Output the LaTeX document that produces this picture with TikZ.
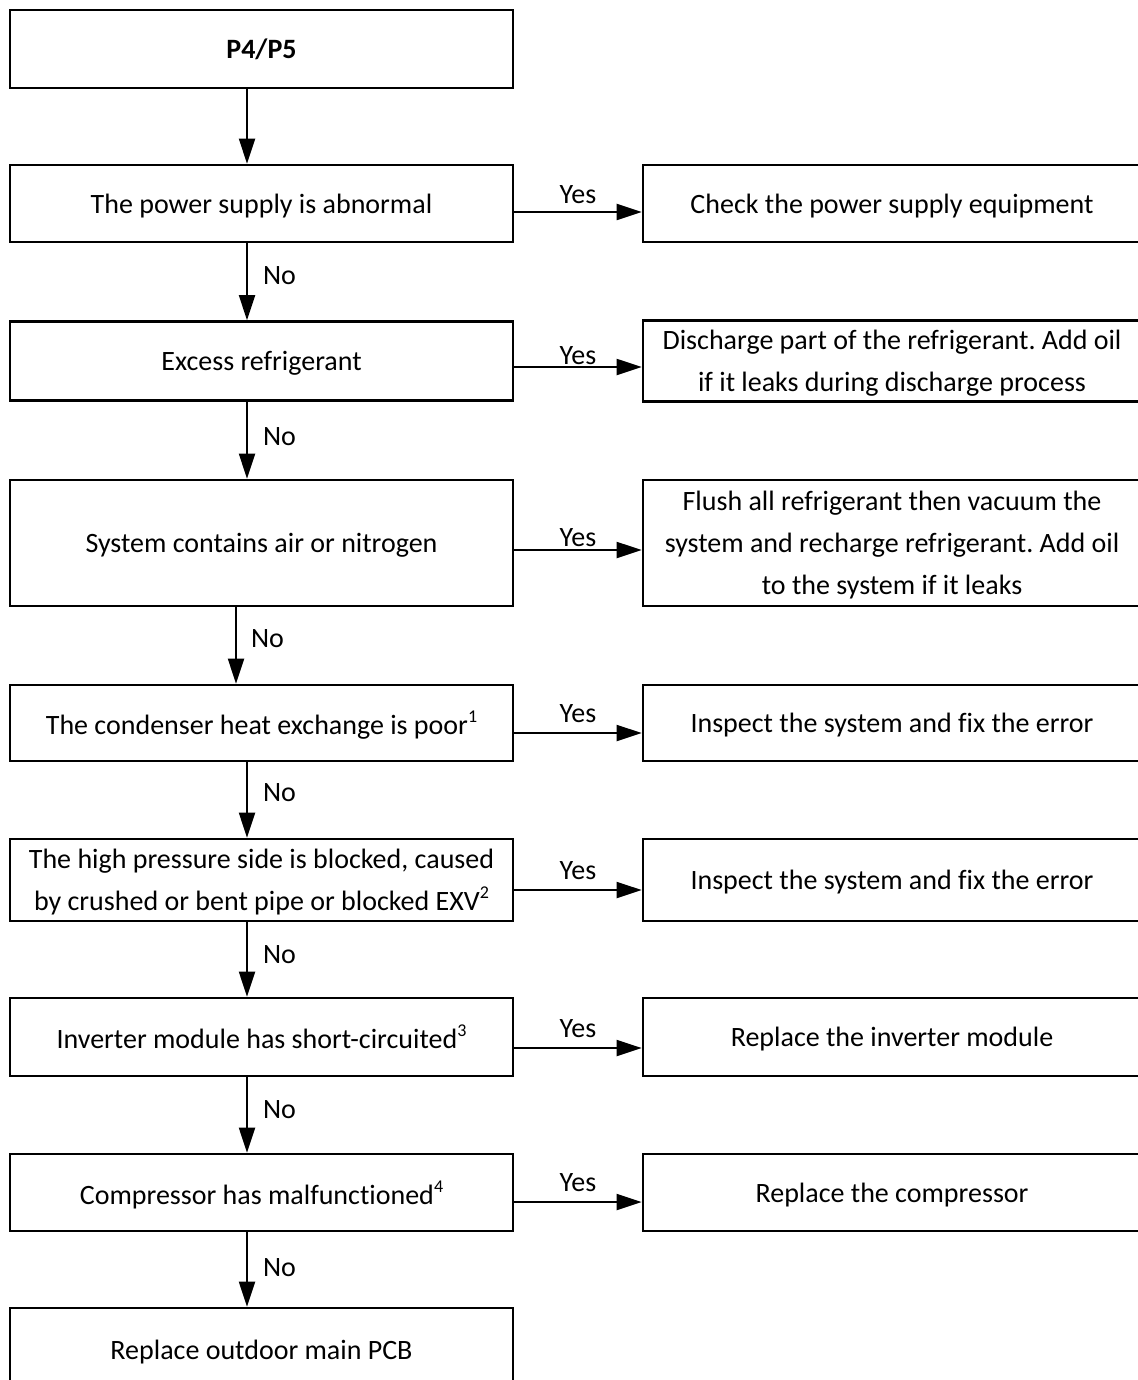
\documentclass[tikz,border=0pt]{standalone}
\usepackage{fontspec}
\setmainfont{Carlito}[Ligatures=NoCommon]
\usetikzlibrary{arrows.meta}
\newcommand\supnum[1]{\raisebox{12pt}{\fontsize{18}{18}\selectfont #1}}
\frenchspacing
\begin{document}
\begin{tikzpicture}[x=1pt,y=-1pt,
  every node/.style={font=\fontsize{28}{42}\selectfont},
  lbox/.style={draw, line width=2.7pt, minimum width=503pt, inner sep=0pt, align=center, text depth=0pt},
  rbox/.style={draw, line width=2.7pt, minimum width=498pt, inner sep=0pt, align=center, text depth=0pt},
  arr/.style={line width=2pt, -{Triangle[length=25pt,width=16pt]}},
  lab/.style={font=\fontsize{28}{34}\selectfont, inner sep=0pt}
]
\useasboundingbox (0,0) rectangle (1137,1380);

\node[lbox, minimum height=78pt] (b1) at (261.5,49) {\textbf{P4/P5}};
\node[lbox, minimum height=77pt] (b2) at (261.5,203.5) {The power supply is abnormal};
\node[rbox, minimum height=77pt] (r2) at (892,203.5) {Check the power supply equipment};
\node[lbox, minimum height=79pt] (b3) at (261.5,361) {Excess refrigerant};
\node[rbox, minimum height=81pt] (r3) at (892,361) {Discharge part of the refrigerant. Add oil\\if it leaks during discharge process};
\node[lbox, minimum height=126pt] (b4) at (261.5,543) {System contains air or nitrogen};
\node[rbox, minimum height=126pt] (r4) at (892,543) {Flush all refrigerant then vacuum the\\system and recharge refrigerant. Add oil\\to the system if it leaks};
\node[lbox, minimum height=76pt] (b5) at (261.5,723) {The condenser heat exchange is poor\supnum{1}};
\node[rbox, minimum height=76pt] (r5) at (892,723) {Inspect the system and fix the error};
\node[lbox, minimum height=82pt] (b6) at (261.5,880) {The high pressure side is blocked, caused\\by crushed or bent pipe or blocked EXV\supnum{2}};
\node[rbox, minimum height=82pt] (r6) at (892,880) {Inspect the system and fix the error};
\node[lbox, minimum height=78pt] (b7) at (261.5,1037) {Inverter module has short-circuited\supnum{3}};
\node[rbox, minimum height=78pt] (r7) at (892,1037) {Replace the inverter module};
\node[lbox, minimum height=77pt] (b8) at (261.5,1192.5) {Compressor has malfunctioned\supnum{4}};
\node[rbox, minimum height=77pt] (r8) at (892,1192.5) {Replace the compressor};
\node[lbox, minimum height=84pt] (b9) at (261.5,1350) {Replace outdoor main PCB};

% vertical connectors
\draw[arr] ([xshift=-14.5pt]b1.south) -- ([xshift=-14.5pt]b2.north);
\draw[arr] ([xshift=-14.5pt]b2.south) -- node[lab, anchor=west, xshift=15pt, yshift=6pt]{No} ([xshift=-14.5pt]b3.north);
\draw[arr] ([xshift=-14.5pt]b3.south) -- node[lab, anchor=west, xshift=15pt, yshift=4pt]{No} ([xshift=-14.5pt]b4.north);
\draw[arr] ([xshift=-25.5pt]b4.south) -- node[lab, anchor=west, xshift=14pt, yshift=7pt]{No} ([xshift=-25.5pt]b5.north);
\draw[arr] ([xshift=-14.5pt]b5.south) -- node[lab, anchor=west, xshift=15pt, yshift=7pt]{No} ([xshift=-14.5pt]b6.north);
\draw[arr] ([xshift=-14.5pt]b6.south) -- node[lab, anchor=west, xshift=15pt, yshift=5pt]{No} ([xshift=-14.5pt]b7.north);
\draw[arr] ([xshift=-14.5pt]b7.south) -- node[lab, anchor=west, xshift=15pt, yshift=5pt]{No} ([xshift=-14.5pt]b8.north);
\draw[arr] ([xshift=-14.5pt]b8.south) -- node[lab, anchor=west, xshift=15pt, yshift=2pt]{No} ([xshift=-14.5pt]b9.north);

% horizontal connectors
\draw[arr] ([yshift=-8.5pt]b2.east) -- node[lab, yshift=17pt]{Yes} ([yshift=-8.5pt]r2.west);
\draw[arr] ([yshift=-6pt]b3.east) -- node[lab, yshift=11pt]{Yes} ([yshift=-6pt]r3.west);
\draw[arr] ([yshift=-7pt]b4.east) -- node[lab, yshift=12pt]{Yes} ([yshift=-7pt]r4.west);
\draw[arr] ([yshift=-10pt]b5.east) -- node[lab, yshift=19pt]{Yes} ([yshift=-10pt]r5.west);
\draw[arr] ([yshift=-10pt]b6.east) -- node[lab, yshift=19pt]{Yes} ([yshift=-10pt]r6.west);
\draw[arr] ([yshift=-11pt]b7.east) -- node[lab, yshift=19pt]{Yes} ([yshift=-11pt]r7.west);
\draw[arr] ([yshift=-9.5pt]b8.east) -- node[lab, yshift=19pt]{Yes} ([yshift=-9.5pt]r8.west);
\end{tikzpicture}
\end{document}
